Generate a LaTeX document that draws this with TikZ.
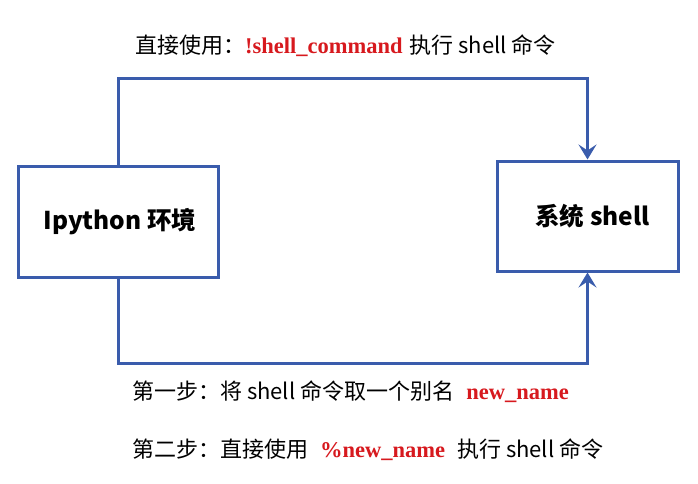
\documentclass[tikz,border=0pt]{standalone}
\usepackage{fontspec}
\setmainfont{Noto Sans CJK SC}
\newfontfamily\redfont{Liberation Serif}
\usetikzlibrary{arrows.meta}
\definecolor{lineblue}{RGB}{58,92,172}
\definecolor{redtext}{RGB}{215,25,30}
\tikzset{
  box/.style={draw=lineblue, line width=3pt, fill=white, inner sep=0pt, font=\fontsize{24.5}{28}\selectfont\bfseries},
  conn/.style={draw=lineblue, line width=3pt, -{Stealth[length=15pt,width=18pt,inset=6pt]}},
  label/.style={anchor=base west, inner sep=0pt, font=\fontsize{22}{24}\selectfont}
}
\newcommand{\codeword}[1]{{\fontsize{22.5}{24}\redfont\bfseries\color{redtext}#1}}
\begin{document}
\begin{tikzpicture}[x=1pt,y=-1pt]
\useasboundingbox[fill=white] (0,0) rectangle (698,484);
\node[box, minimum width=200pt, minimum height=111pt] (L) at (118,221.5) {\hspace*{4pt}Ipython 环境};
\node[box, minimum width=181pt, minimum height=110pt] (R) at (587.5,216) {\hspace*{10pt}系统 shell};
\draw[conn] (L.north) -- ++(0,-86) -| (R.north);
\draw[conn] (L.south) -- ++(0,85) -| (R.south);
\node[label] (t1) at (135,54) {直接使用：\codeword{!shell\_command}\hspace{7pt}执行 shell 命令};
\node[label] (t2) at (132,399) {第一步：将 shell 命令取一个别名\hspace{12pt}\codeword{new\_name}};
\node[label] (t3) at (132,457) {第二步：直接使用\hspace{12pt}\codeword{\%new\_name}\hspace{12pt}执行 shell 命令};
\end{tikzpicture}
\end{document}
